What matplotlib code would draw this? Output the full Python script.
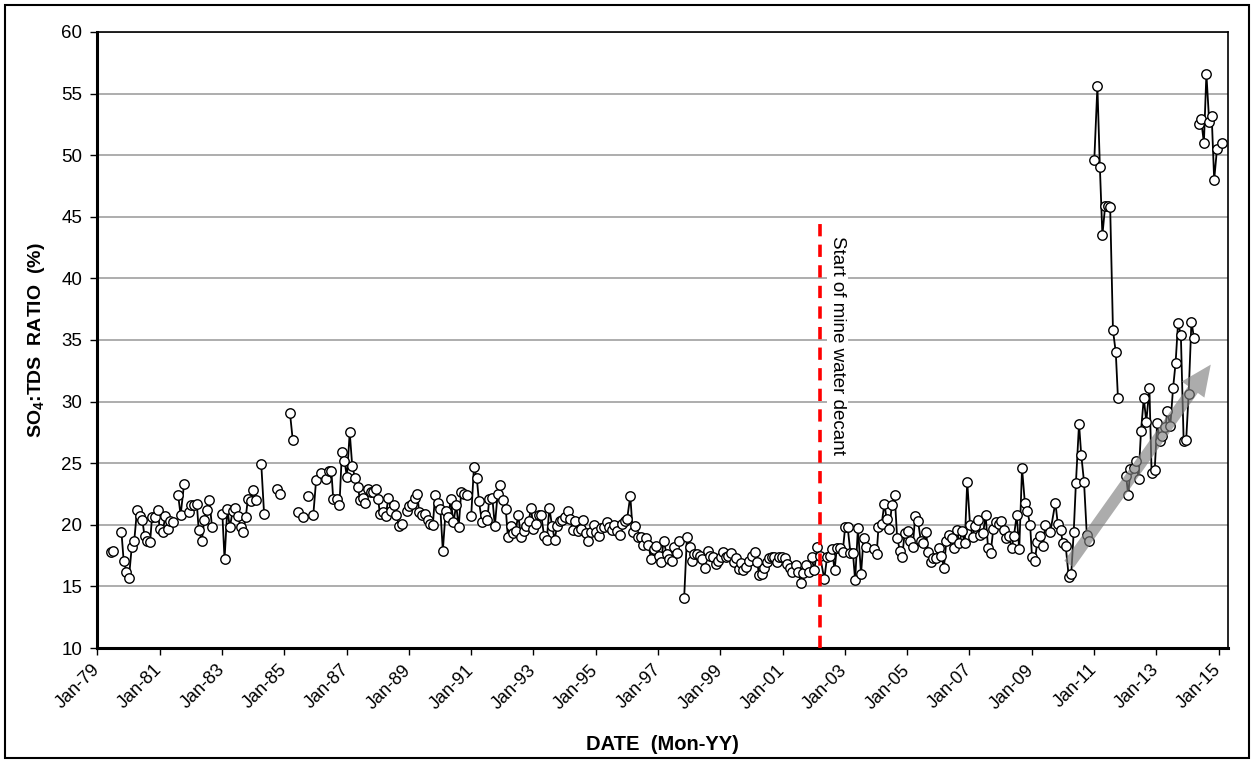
import numpy as np
import matplotlib
matplotlib.use("Agg")
import matplotlib.pyplot as plt
from matplotlib.patches import Rectangle
import matplotlib.transforms as mtransforms

plt.rcParams['font.family'] = ['Liberation Sans', 'DejaVu Sans']
plt.rcParams['mathtext.fontset'] = 'custom'
plt.rcParams['mathtext.rm'] = 'Liberation Sans'
plt.rcParams['mathtext.bf'] = 'Liberation Sans:bold'

nan = np.nan

# SO4:TDS ratio (%), decimal year; nan = gap in record
main_dates = [
    1979.42, 1979.51, nan,
    1979.77, 1979.84, 1979.93, 1980.01, 1980.10, 1980.18, 1980.27, 1980.35, 1980.44, 1980.51,
    1980.60, 1980.69, 1980.75, 1980.85, 1980.93, 1981.00, 1981.09, 1981.18, 1981.26, 1981.33,
    1981.42, nan, 1981.59, 1981.67, 1981.78, nan,
    1981.93, 1982.01, 1982.10, 1982.19, 1982.25, 1982.35, 1982.43, 1982.51, 1982.59, 1982.68, nan,
    1983.01, 1983.08, 1983.17, 1983.25, 1983.34, 1983.43, 1983.51, 1983.60, 1983.68, 1983.76,
    1983.83, 1983.93, 1984.00, 1984.09, nan, 1984.26, 1984.35, nan, 1984.75, 1984.85, nan,
    1985.18, 1985.27, nan, 1985.43, nan, 1985.59, nan, 1985.77, nan,
    1985.93, 1986.02, 1986.18, 1986.35, 1986.42, 1986.51, 1986.57, 1986.68, 1986.77, 1986.85,
    1986.93, 1987.01, 1987.10, 1987.18, 1987.27, 1987.36, 1987.43, 1987.52, 1987.60, 1987.69,
    1987.77, 1987.86, 1987.93, 1988.01, 1988.07, 1988.18, 1988.26, 1988.34, 1988.43, 1988.52,
    1988.60, 1988.68, 1988.77, nan,
    1988.93, 1989.01, 1989.10, 1989.19, 1989.27, 1989.33, 1989.42, 1989.51, 1989.60, 1989.68,
    1989.77, 1989.84, 1989.93, 1990.01, 1990.09, 1990.18, 1990.27, 1990.34, 1990.43, 1990.52,
    1990.60, 1990.68, 1990.77, 1990.86, nan,
    1991.00, 1991.09, 1991.18, 1991.25, 1991.35, 1991.43, 1991.52, 1991.58, 1991.68, 1991.76,
    1991.85, 1991.94, 1992.01, 1992.11, 1992.18, 1992.27, 1992.34, 1992.43, 1992.51, 1992.60,
    1992.69, 1992.77, 1992.85, 1992.92, 1993.00, 1993.09, 1993.18, 1993.25, 1993.34, 1993.43,
    1993.51, 1993.60, 1993.68, 1993.76, 1993.84, 1993.93, 1994.01, 1994.10, 1994.17, 1994.26,
    1994.34, 1994.43, 1994.52, 1994.60, 1994.68, 1994.76, 1994.85, 1994.94, 1995.02, 1995.10,
    1995.18, 1995.27, 1995.35, 1995.43, 1995.52, 1995.60, 1995.68, 1995.77, 1995.85, 1995.94,
    1996.01, 1996.11, 1996.19, 1996.27, 1996.35, 1996.44, 1996.53, 1996.60, 1996.69, 1996.78,
    1996.86, 1996.94, 1997.02, 1997.10, 1997.18, 1997.28, 1997.35, 1997.44, 1997.51, 1997.60,
    1997.68, nan,
    1997.84, 1997.93, 1998.03, 1998.09, 1998.16, 1998.25, 1998.34, 1998.42, 1998.50, 1998.60,
    1998.68, 1998.77, 1998.85, 1998.92, 1999.02, 1999.10, 1999.19, 1999.26, 1999.34, 1999.43,
    1999.51, 1999.59, 1999.65, 1999.74, 1999.82, 1999.91, 2000.03, 2000.11, 2000.19, 2000.24,
    2000.33, 2000.39, 2000.49, 2000.56, 2000.65, 2000.73, 2000.81, 2000.90, 2000.98, 2001.07,
    2001.13, 2001.23, 2001.31, 2001.43, 2001.50, 2001.59, 2001.67, 2001.76, 2001.84, 2001.93,
    2002.02, 2002.12, 2002.20, 2002.34, 2002.43, 2002.51, 2002.59, 2002.67, 2002.74, 2002.85,
    2002.93, 2003.01, 2003.09, 2003.18, 2003.26, 2003.33, 2003.42, 2003.52, 2003.60, 2003.67, nan,
    2003.94, 2004.02, 2004.08, 2004.18, 2004.27, 2004.34, 2004.43, 2004.51, 2004.60, 2004.68,
    2004.77, 2004.84, 2004.92, 2005.02, 2005.09, 2005.18, 2005.26, 2005.35, 2005.44, 2005.51,
    2005.61, 2005.67, 2005.76, 2005.84, 2005.93, 2006.01, 2006.10, 2006.18, 2006.26, 2006.34,
    2006.43, 2006.51, 2006.59, 2006.68, 2006.76, 2006.85, 2006.93, 2007.02, 2007.10, 2007.17,
    2007.27, 2007.34, 2007.44, 2007.52, 2007.60, 2007.68, 2007.77, 2007.85, 2007.94, 2008.02,
    2008.10, 2008.18, 2008.27, 2008.36, 2008.43, 2008.52, 2008.60, 2008.69, 2008.78, 2008.86,
    2008.95, 2009.01, 2009.10, 2009.18, 2009.27, 2009.36, 2009.44, 2009.60, 2009.76, 2009.84,
    2009.93, 2010.00, 2010.09, 2010.19, 2010.27, 2010.35, 2010.42, 2010.52, 2010.59, 2010.68,
    2010.77, 2010.85, nan,
    2012.03, 2012.10, 2012.17, 2012.27, 2012.36, 2012.43, 2012.51, 2012.60, 2012.68, 2012.78,
    2012.85, 2012.95, 2013.03, 2013.11, 2013.20, 2013.29, 2013.36, 2013.45, 2013.54, 2013.62,
    2013.70, 2013.79, 2013.88, 2013.96, 2014.04, 2014.13, 2014.21,
]
main_ratio = [
    17.8, 17.9, nan,
    19.4, 17.1, 16.2, 15.7, 18.2, 18.7, 21.2, 20.7, 20.4, 19.1,
    18.7, 18.6, 20.6, 20.6, 21.2, 19.7, 19.4, 20.7, 19.7, 20.3,
    20.2, nan, 22.4, 20.8, 23.3, nan,
    21.0, 21.6, 21.6, 21.7, 19.6, 18.7, 20.4, 21.2, 22.0, 19.8, nan,
    20.9, 17.2, 21.3, 19.8, 21.1, 21.4, 20.7, 19.8, 19.4, 20.6,
    22.1, 21.9, 22.8, 22.0, nan, 24.9, 20.9, nan, 22.9, 22.5, nan,
    29.1, 26.9, nan, 21.05, nan, 20.6, nan, 22.3, nan,
    20.8, 23.6, 24.2, 23.7, 24.4, 24.4, 22.1, 22.1, 21.6, 25.9,
    25.2, 23.9, 27.5, 24.8, 23.8, 23.1, 22.0, 22.2, 21.8, 22.9,
    22.7, 22.7, 22.9, 22.1, 20.9, 21.05, 20.75, 22.2, 21.1, 21.6,
    20.8, 19.9, 20.1, nan,
    21.1, 21.5, 21.7, 22.2, 22.5, 21.0, 20.8, 20.9, 20.4, 20.1,
    20.0, 22.4, 21.8, 21.3, 17.9, 21.1, 20.6, 22.1, 20.2, 21.6,
    19.8, 22.7, 22.5, 22.4, nan,
    20.7, 24.7, 23.8, 21.9, 20.2, 20.8, 20.4, 22.1, 22.2, 19.9,
    22.5, 23.2, 22.0, 21.3, 19.0, 19.9, 19.3, 19.5, 20.8, 19.05,
    19.5, 19.9, 20.3, 21.4, 19.7, 20.1, 20.8, 20.8, 19.1, 18.8,
    21.35, 19.9, 18.8, 19.9, 20.3, 20.4, 20.6, 21.1, 20.5, 19.6,
    20.3, 19.5, 19.7, 20.35, 19.3, 18.7, 19.4, 20.0, 19.4, 19.1,
    19.75, 19.8, 20.2, 19.8, 19.6, 20.0, 19.5, 19.2, 20.1, 20.3,
    20.5, 22.35, 19.4, 19.9, 19.0, 19.0, 18.4, 18.9, 18.4, 17.2,
    18.0, 18.3, 17.5, 17.0, 18.7, 17.6, 17.2, 17.1, 18.2, 17.7,
    18.7, nan,
    14.1, 19.05, 18.2, 17.05, 17.6, 17.6, 17.5, 17.2, 16.5, 17.9,
    17.5, 17.4, 16.8, 17.1, 17.4, 17.8, 17.4, 17.5, 17.7, 16.95,
    17.3, 16.4, 16.9, 16.3, 16.6, 17.1, 17.5, 17.8, 17.0, 15.9,
    16.0, 16.5, 17.0, 17.3, 17.4, 17.35, 16.95, 17.4, 17.4, 17.3,
    16.8, 16.5, 16.2, 16.7, 16.2, 15.3, 16.1, 16.7, 16.2, 17.35,
    16.35, 18.2, 17.5, 15.6, 17.4, 17.5, 18.0, 16.3, 18.1, 18.1,
    17.8, 19.8, 19.8, 17.7, 17.7, 15.5, 19.75, 16.0, 18.9, 18.2, nan,
    18.0, 17.6, 19.8, 20.05, 21.7, 20.5, 19.7, 21.6, 22.4, 18.9,
    17.9, 17.4, 19.3, 19.5, 18.7, 18.2, 20.75, 20.3, 18.7, 18.5,
    19.4, 17.8, 17.0, 17.3, 17.3, 18.1, 17.5, 16.5, 18.7, 19.2,
    18.9, 18.1, 19.6, 18.5, 19.5, 18.5, 23.5, 20.0, 19.05, 19.9,
    20.4, 19.2, 19.3, 20.8, 18.1, 17.7, 19.7, 20.2, 20.05, 20.3,
    19.6, 18.9, 19.1, 18.1, 19.1, 20.8, 18.0, 24.6, 21.8, 21.1,
    20.0, 17.4, 17.1, 18.6, 19.1, 18.3, 20.0, 19.45, 21.8, 20.05,
    19.6, 18.5, 18.3, 15.8, 16.0, 19.45, 23.4, 28.2, 25.7, 23.5,
    19.2, 18.7, nan,
    24.0, 22.4, 24.5, 24.65, 25.2, 23.7, 27.6, 30.3, 28.35, 31.1,
    24.2, 24.45, 28.3, 26.8, 27.2, 27.9, 29.2, 28.0, 31.1, 33.1,
    36.4, 35.4, 26.8, 26.85, 30.6, 36.5, 35.2,
]
high_2011_dates = [2011.01, 2011.11, 2011.19, 2011.27, 2011.36, 2011.44, 2011.52, 2011.61, 2011.70, 2011.77]
high_2011_ratio = [49.6, 55.6, 49.0, 43.5, 45.9, 45.9, 45.8, 35.8, 34.0, 30.3]
high_2014_dates = [2014.36, 2014.44, 2014.53, 2014.61, 2014.70, 2014.78, 2014.86, 2014.95, 2015.11]
high_2014_ratio = [52.5, 52.9, 51.0, 56.6, 52.7, 53.2, 48.0, 50.5, 51.0]

tick_years = list(range(1979, 2016, 2))
tick_labels = ['Jan-%02d' % (y % 100) for y in tick_years]

decant_year = 2002.2
trend_start = (2010.2, 16.8)
trend_end = (2014.75, 33.0)

fig = plt.figure(figsize=(12.53, 7.63), dpi=100)
ax = fig.add_axes([0.0778, 0.1507, 0.9019, 0.8074])

for d, r in [(main_dates, main_ratio), (high_2011_dates, high_2011_ratio),
             (high_2014_dates, high_2014_ratio)]:
    ax.plot(d, r, color='black', lw=1.3, marker='o', ms=6.8, mfc='white',
            mec='black', mew=1.0, zorder=3)

# start of decant
ax.plot([decant_year, decant_year], [10, 44.7], color='#ff0000', lw=2.6,
        dashes=(3.4, 2.3), zorder=4)
ax.text(decant_year + 0.55, 43.4, 'Start of mine water decant', rotation=270,
        ha='center', va='top', fontsize=13.5,
        bbox=dict(facecolor='white', edgecolor='none', pad=1.5), zorder=2)

# trend arrow
ax.annotate('', xy=trend_end, xytext=trend_start,
            arrowprops=dict(arrowstyle='simple,head_width=1.0,head_length=1.1,tail_width=0.42',
                            mutation_scale=20, fc='#808080', ec='none', alpha=0.65,
                            shrinkA=0, shrinkB=0),
            zorder=5)

ax.set_xlim(1979, 2015.29)
ax.set_ylim(10, 60)
ax.set_yticks(range(10, 61, 5))
ax.set_xticks(tick_years)
ax.set_xticklabels(tick_labels, rotation=45, ha='right', va='center', rotation_mode='anchor')
ax.tick_params(axis='both', labelsize=13.5, direction='out', length=5, width=1)
ax.tick_params(axis='x', labelsize=13, pad=9)
ax.tick_params(axis='y', pad=6)
ax.yaxis.grid(True, color='#a0a0a0', lw=1.2)
ax.set_axisbelow(True)

for s in ['top', 'right']:
    ax.spines[s].set_linewidth(1.2)
for s in ['left', 'bottom']:
    ax.spines[s].set_linewidth(2.2)

ax.set_ylabel(r'SO$_\mathbf{4}$:TDS  RATIO  (%)', fontsize=14, fontweight='bold', labelpad=10)
ax.set_xlabel('DATE  (Mon-YY)', fontsize=14.5, fontweight='bold', labelpad=16)

# outer border
fig.patches.append(Rectangle((0.004, 0.006), 0.993, 0.988, transform=fig.transFigure,
                             fill=False, edgecolor='black', lw=1.5))

fig.savefig('out.png', dpi=100)
